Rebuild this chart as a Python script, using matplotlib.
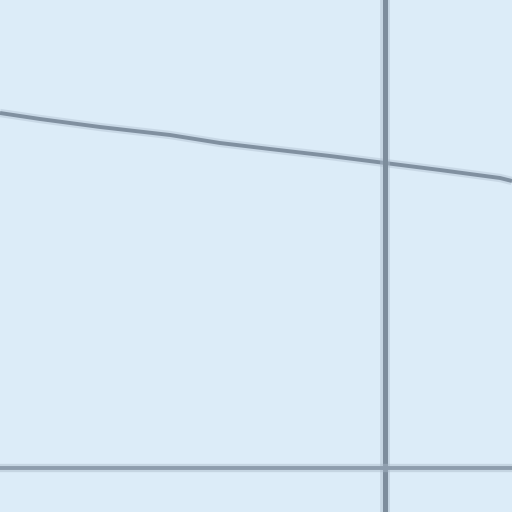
import matplotlib
matplotlib.use("Agg")
import matplotlib.pyplot as plt

# data (axis units: x 0..512, y 0..512 top-down)
line_x = [0, 40, 100, 170, 220, 270, 330, 385, 440, 500, 512]
line_y = [113, 119, 127, 135, 143, 149, 156, 163, 170, 178, 181]
vline_x = 385
hline_y = 468

fig = plt.figure(figsize=(5.12, 5.12), dpi=100)
ax = fig.add_axes([0, 0, 1, 1])
ax.set_xlim(0, 512)
ax.set_ylim(512, 0)
ax.set_facecolor("#dcecf8")
ax.axis("off")
fig.patch.set_facecolor("#dcecf8")

# soft blur halo
ax.plot(line_x, line_y, color="#a5b5c5", lw=6, alpha=0.35, solid_capstyle="butt")
ax.plot(line_x, line_y, color="#8090a0", lw=2.8, solid_capstyle="butt")

ax.axvline(vline_x, color="#a9b9c8", lw=7, alpha=0.45)
ax.axvline(vline_x, color="#7d8d9c", lw=3.6)
ax.axhline(hline_y, color="#a9b9c8", lw=6, alpha=0.45)
ax.axhline(hline_y, color="#8d9dad", lw=2.8)

fig.savefig("out.png", dpi=100, facecolor=fig.get_facecolor())
